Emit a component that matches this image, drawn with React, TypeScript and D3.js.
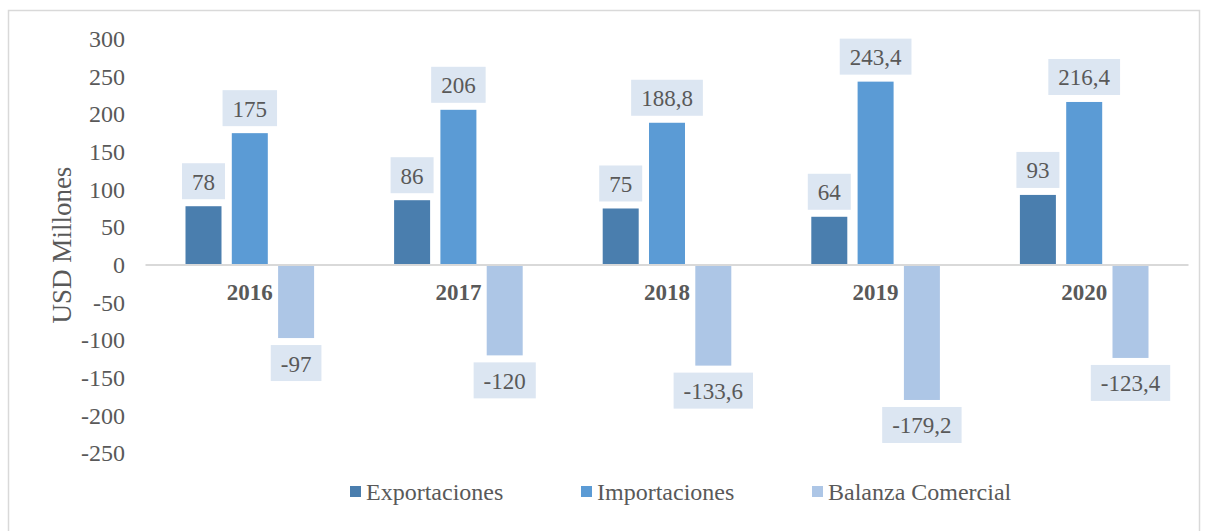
import React from "react";
import * as d3 from "d3";

const years = ["2016", "2017", "2018", "2019", "2020"];
const exportaciones = [78, 86, 75, 64, 93];
const importaciones = [175, 206, 188.8, 243.4, 216.4];
const balanza = [-97, -120, -133.6, -179.2, -123.4];
const seriesNames = ["Exportaciones", "Importaciones", "Balanza Comercial"];
const seriesColors = ["#4a7eae", "#5b9bd5", "#adc6e6"];
const yTicks = [300, 250, 200, 150, 100, 50, 0, -50, -100, -150, -200, -250];

const W = 1206;
const H = 531;
const FONT = "'Liberation Serif', 'Times New Roman', serif";
const FS = 23;
const TXT = "#595959";

function fmt(v: number) {
  return String(v).replace(".", ",");
}
function textW(s: string, fs: number) {
  let w = 0;
  for (const c of s) {
    if (c >= "0" && c <= "9") w += 0.5;
    else if (c === ",") w += 0.25;
    else if (c === "-") w += 0.333;
    else w += 0.5;
  }
  return w * fs;
}

export default function App() {
  const x0 = d3.scaleBand<string>().domain(years).range([145.5, 1188.5]).paddingInner(0).paddingOuter(0);
  const bw = x0.bandwidth();
  const inner = 128.6;
  const x1 = d3
    .scaleBand<string>()
    .domain(seriesNames)
    .range([(bw - inner) / 2, (bw + inner) / 2])
    .paddingInner(0.2225)
    .paddingOuter(0);
  const y = d3.scaleLinear().domain([-250, 300]).range([453.3, 39]);
  const data = [exportaciones, importaciones, balanza];

  const legendX = [350, 581, 812];

  return (
    <svg
      width={W}
      height={H}
      style={{ position: "absolute", left: 0, top: 0, background: "#fff" }}
      fontFamily={FONT}
    >
      <rect x={8.5} y={10.5} width={1191} height={530} fill="#fff" stroke="#d9d9d9" strokeWidth={1.5} />
      {yTicks.map((t) => (
        <text key={t} x={125} y={y(t)} textAnchor="end" dominantBaseline="central" fontSize={24} fill={TXT}>
          {t}
        </text>
      ))}
      <text
        transform={`translate(62,${245}) rotate(-90)`}
        textAnchor="middle"
        dominantBaseline="central"
        fontSize={27}
        fill={TXT}
      >
        USD Millones
      </text>
      {data.map((vals, si) =>
        vals.map((v, i) => {
          const bx = (x0(years[i]) as number) + (x1(seriesNames[si]) as number);
          const w = x1.bandwidth();
          const top = Math.min(y(v), y(0));
          const h = Math.abs(y(v) - y(0));
          return (
            <rect key={`b${si}-${i}`} x={bx} y={top} width={w} height={h} fill={seriesColors[si]} />
          );
        })
      )}
      <line x1={145.5} x2={1188.5} y1={y(0)} y2={y(0)} stroke="#d9d9d9" strokeWidth={2} />
      {years.map((yr) => (
        <text
          key={yr}
          x={(x0(yr) as number) + bw / 2}
          y={300}
          textAnchor="middle"
          fontSize={FS}
          fontWeight="bold"
          fill={TXT}
        >
          {yr}
        </text>
      ))}
      {data.map((vals, si) =>
        vals.map((v, i) => {
          const cx = (x0(years[i]) as number) + (x1(seriesNames[si]) as number) + x1.bandwidth() / 2;
          const s = fmt(v);
          const tw = textW(s, FS) + 20;
          const bh = 36;
          const by = v >= 0 ? y(v) - 7 - bh : y(v) + 7;
          return (
            <g key={`l${si}-${i}`}>
              <rect x={cx - tw / 2} y={by} width={tw} height={bh} fill="#dce6f2" />
              <text x={cx} y={by + bh / 2 + 1} textAnchor="middle" dominantBaseline="central" fontSize={FS} fill={TXT}>
                {s}
              </text>
            </g>
          );
        })
      )}
      {seriesNames.map((n, i) => (
        <g key={n}>
          <rect x={legendX[i]} y={486} width={11} height={11} fill={seriesColors[i]} />
          <text x={legendX[i] + 16} y={492} dominantBaseline="central" fontSize={24} fill={TXT}>
            {n}
          </text>
        </g>
      ))}
    </svg>
  );
}
